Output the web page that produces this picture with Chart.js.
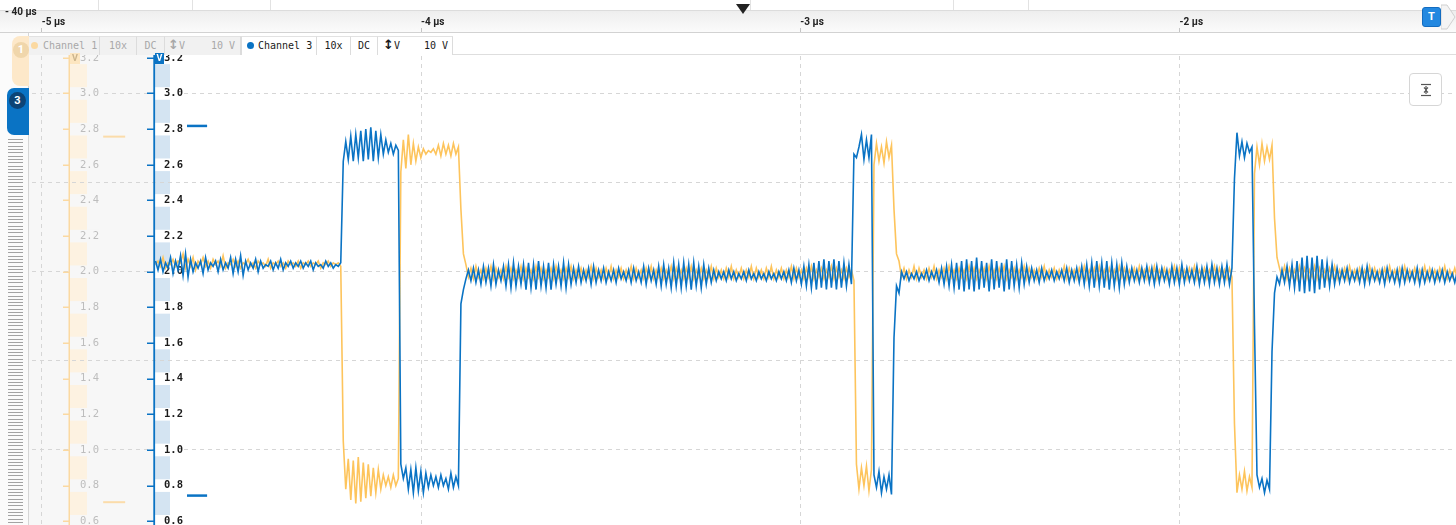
<!DOCTYPE html>
<html>
<head>
<meta charset="utf-8">
<title>Channel 1 / Channel 3</title>
<script src="https://cdn.jsdelivr.net/npm/chart.js@4.4.1/dist/chart.umd.min.js"></script>
<style>
  html, body { margin: 0; padding: 0; background: #fff; }
  body { position: relative; width: 1456px; height: 525px; overflow: hidden; font-family: Roboto, "Noto Sans", sans-serif; }
  .box { position: absolute; box-sizing: border-box; }
  .under { z-index: 1; }
  .over { z-index: 3; }
  #plot { position: absolute; left: 0; top: 0; z-index: 2; }

  #topStrip { left: 0; top: 0; width: 1456px; height: 11px; background: #fff; border-bottom: 1px solid #dcdcdc; }
  .sep { top: 0; width: 1px; height: 10px; background: #e2e2e2; }
  #ruler { left: 0; top: 11px; width: 1456px; height: 22px; background: linear-gradient(#eeeeee, #fbfbfb); border-bottom: 1px solid #d2d2d2; }
  #ch1Panel { left: 29px; top: 55px; width: 125px; height: 470px; background: #f7f7f7; }
  #ch1Band { left: 70px; top: 64px; width: 17px; height: 461px; background: #fdf2e1; }
  #ch3Band { left: 155px; top: 64px; width: 15px; height: 461px; background: #d4e4f2; }

  #tabCol { left: 0; top: 33px; width: 29px; height: 492px; background: #fbfbfb; border-right: 1px solid #d6d6d6; }
  #tab1 { left: 12px; top: 36px; width: 17px; height: 50px; background: #fde8c9; border-radius: 8px 0 0 8px; }
  #tab3 { left: 7px; top: 88px; width: 22px; height: 47px; background: #0a73c4; border-radius: 7px 0 0 7px; }
  .num { position: absolute; border-radius: 50%; color: #fff; font-weight: bold; text-align: center; }
  #num1 { left: 13px; top: 42px; width: 16px; height: 16px; line-height: 16px; font-size: 11px; background: #f0d6ab; }
  #num3 { left: 9px; top: 92px; width: 17px; height: 17px; line-height: 17px; font-size: 11px; background: #0d4476; }
  #tabRuler { left: 8px; top: 139px; width: 15px; height: 386px;
    background: repeating-linear-gradient(to bottom, #a3a3a3 0, #a3a3a3 1px, transparent 1px, transparent 3.33px); }

  #header { left: 29px; top: 33px; width: 1427px; height: 22px; background: #fff; border-bottom: 1px solid #dedede; }
  .cell { position: absolute; top: 36px; height: 19px; line-height: 18px; font-family: "DejaVu Sans Mono", monospace; font-size: 10px;
    box-sizing: border-box; border-right: 1px solid #dcdcdc; border-top: 1px solid #e2e2e2; text-align: center; white-space: pre; }
  .c1 { background: #f1f1f1; color: #a8a8a8; }
  .c3 { background: #fff; color: #1a1a1a; }
  .dot { position: absolute; top: 5px; width: 7px; height: 7px; border-radius: 50%; }
  .l { position: absolute; left: 3px; top: 0; }
  .r { position: absolute; right: 5px; top: 0; }
  .arr { font-family: "DejaVu Sans", sans-serif; font-size: 13px; font-weight: bold; line-height: 10px; }

  .vbox { top: 53px; height: 11px; line-height: 11px; font-size: 9px; font-weight: bold; text-align: center; }
  #v1 { left: 70px; width: 10px; background: #fde6c0; color: #cbb48c; }
  #v3 { left: 155px; width: 9px; background: #0a73c4; color: #fff; }

  #span { left: 5px; top: 6px; font-size: 10px; line-height: 12px; font-weight: bold; color: #222; }
  #trig { left: 736px; top: 4px; width: 0; height: 0; border-left: 7px solid transparent; border-right: 7px solid transparent; border-top: 10px solid #222; }
  #tBtn { left: 1422px; top: 7px; width: 19px; height: 20px; line-height: 18px; background: #2388e0; border: 1px solid #136cc0; border-radius: 3px;
    color: #fff; font-size: 11px; font-weight: bold; text-align: center; }
  #chev { left: 1441px; top: 3px; }
  #fitBtn { left: 1409px; top: 73px; width: 33px; height: 33px; background: #fff; border: 1px solid #d6d6d6; border-radius: 4px; }
</style>
</head>
<body>
<!-- under the plot -->
<div id="topStrip" class="box under"></div>
<div class="box sep under" style="left:98px"></div>
<div class="box sep under" style="left:192px"></div>
<div class="box sep under" style="left:270px"></div>
<div class="box sep under" style="left:750px"></div>
<div class="box sep under" style="left:953px"></div>
<div class="box sep under" style="left:1028px"></div>
<div id="ruler" class="box under"></div>
<div id="ch1Panel" class="box under"></div>
<div id="ch1Band" class="box under"></div>
<div id="ch3Band" class="box under"></div>

<canvas id="plot" width="1456" height="525"></canvas>

<!-- over the plot -->
<div id="span" class="box over">- 40 µs</div>
<div id="trig" class="box over"></div>
<div id="tBtn" class="box over">T</div>
<svg id="chev" class="box over" width="15" height="28"><polygon points="0,2 6,2 14,14 6,26 0,26" fill="#f4f4f4" stroke="#cfcfcf"/></svg>

<div id="header" class="box over"></div>
<div class="cell c1 over" style="left:29px;width:71px;text-align:left;padding-left:14px"><span class="dot" style="left:2px;background:#fbd9a1"></span>Channel 1</div>
<div class="cell c1 over" style="left:100px;width:37px">10x</div>
<div class="cell c1 over" style="left:137px;width:28px">DC</div>
<div class="cell c1 over" style="left:165px;width:76px"><span class="l"><span class="arr">↕</span>V</span><span class="r">10 V</span></div>
<div class="cell c3 over" style="left:241px;width:76px;text-align:left;padding-left:16px;border-left:1px solid #dcdcdc"><span class="dot" style="left:5px;background:#0a73c4"></span>Channel 3</div>
<div class="cell c3 over" style="left:317px;width:34px">10x</div>
<div class="cell c3 over" style="left:351px;width:27px">DC</div>
<div class="cell c3 over" style="left:378px;width:75px"><span class="l" style="left:5px"><span class="arr">↕</span>V</span><span class="r" style="right:4px">10 V</span></div>
<div id="v1" class="box vbox over">V</div>
<div id="v3" class="box vbox over">V</div>

<div id="tabCol" class="box over"></div>
<div id="tab1" class="box over"></div>
<div id="num1" class="num over">1</div>
<div id="tab3" class="box over"></div>
<div id="num3" class="num over">3</div>
<div id="tabRuler" class="box over"></div>

<div id="fitBtn" class="box over">
  <svg width="31" height="31">
    <g stroke="#555" stroke-width="1.2" fill="none">
      <line x1="11" y1="10.5" x2="21" y2="10.5"/>
      <line x1="11" y1="21.5" x2="21" y2="21.5"/>
      <line x1="16" y1="12" x2="16" y2="20"/>
      <polyline points="14,13.5 16,15.5 18,13.5"/>
      <polyline points="14,18.5 16,16.5 18,18.5"/>
    </g>
  </svg>
</div>

<script>
// capture time base (µs)
const sampleStart = -4.70;
const sampleStep = 0.0066;

const timeTicks = [-5, -4, -3, -2];
const voltTicks = [3.2, 3.0, 2.8, 2.6, 2.4, 2.2, 2.0, 1.8, 1.6, 1.4, 1.2, 1.0, 0.8, 0.6];
const gridLevels = [3.0, 2.5, 2.0, 1.5, 1.0];

// level markers at the left of each trace (V)
const ch3Markers = [2.818, 0.744];
const ch1Markers = [2.758, 0.707];

// Channel 3 (blue), volts
const ch3Values = [
  2.06,2.01,2.07,2.00,2.05,2.02,2.08,1.99,2.06,2.01,
  2.09,1.98,2.10,1.97,2.07,2.00,2.05,2.02,2.06,1.99,
  2.08,2.01,2.05,2.03,2.06,2.00,2.07,2.01,2.05,2.02,
  2.08,1.99,2.07,2.00,2.09,1.98,2.06,2.01,2.05,2.02,
  2.07,2.00,2.06,2.02,2.04,2.03,2.06,2.01,2.05,2.02,
  2.07,2.01,2.05,2.03,2.06,2.02,2.05,2.03,2.06,2.02,
  2.05,2.03,2.06,2.01,2.05,2.03,2.04,2.02,2.06,2.03,
  2.05,2.02,2.04,2.03,2.05,
  // burst 1
  2.62,2.73,2.63,2.76,2.62,2.77,2.64,2.79,2.62,2.80,
  2.63,2.81,2.62,2.79,2.64,2.77,2.66,2.74,2.67,2.72,
  2.66,2.71,2.68,
  0.92,0.84,0.90,0.78,0.89,0.76,0.90,0.77,0.88,0.76,
  0.87,0.79,0.86,0.80,0.85,0.79,0.86,0.80,0.84,0.78,
  0.87,0.79,0.85,0.80,
  // idle
  1.82,1.90,1.96,2.01,1.95,2.02,1.94,2.01,
  1.93,2.03,1.94,2.02,1.92,2.04,1.93,2.01,1.95,2.03,
  1.92,2.04,1.91,2.05,1.92,2.03,1.93,2.04,1.90,2.05,
  1.91,2.04,1.90,2.06,1.92,2.03,1.91,2.05,1.90,2.04,
  1.93,2.03,1.92,2.05,1.91,2.04,1.93,2.02,1.94,2.03,
  1.94,2.01,1.95,2.02,1.93,2.03,1.94,2.01,1.95,2.02,
  1.94,2.00,1.95,2.01,1.94,2.02,1.96,2.00,1.95,2.01,
  1.94,2.02,1.95,2.00,1.94,2.03,1.93,2.02,1.95,2.01,
  1.93,2.03,1.92,2.04,1.93,2.02,1.91,2.05,1.92,2.04,
  1.91,2.05,1.92,2.04,1.90,2.05,1.92,2.03,1.91,2.04,
  1.93,2.02,1.94,2.01,1.95,2.00,1.96,2.00,1.95,2.01,
  1.96,2.00,1.95,1.99,1.96,2.00,1.95,2.01,1.96,1.99,
  1.95,2.00,1.96,1.99,1.95,2.00,1.96,1.99,1.95,2.00,
  1.96,2.00,1.95,2.01,1.94,2.02,1.95,2.01,1.93,2.03,
  1.92,2.04,1.91,2.05,1.90,2.06,1.91,2.07,1.90,2.06,
  1.91,2.07,1.90,2.06,1.91,2.05,1.92,2.04,1.93,
  // burst 2
  2.66,2.64,2.70,2.77,2.63,2.74,2.64,2.77,
  0.86,0.79,0.88,0.76,0.85,0.78,0.86,0.75,
  1.63,1.92,1.88,2.00,
  // idle
  1.96,2.00,1.95,1.99,1.96,2.00,1.95,1.99,1.96,2.01,
  1.95,2.00,1.96,2.01,1.94,2.02,1.93,2.03,1.92,2.04,
  1.91,2.05,1.90,2.06,1.89,2.07,1.90,2.06,1.89,2.08,
  1.90,2.06,1.91,2.05,1.89,2.07,1.90,2.06,1.91,2.05,
  1.89,2.07,1.90,2.06,1.92,2.04,1.91,2.05,1.93,2.03,
  1.94,2.02,1.95,2.01,1.94,2.02,1.95,2.00,1.96,2.01,
  1.95,2.00,1.96,2.01,1.95,2.02,1.94,2.01,1.95,2.02,
  1.94,2.03,1.93,2.04,1.92,2.05,1.91,2.06,1.92,2.05,
  1.91,2.06,1.90,2.05,1.92,2.04,1.91,2.05,1.93,2.03,
  1.94,2.02,1.95,2.01,1.94,2.02,1.95,2.03,1.94,2.02,
  1.93,2.03,1.94,2.02,1.95,2.01,1.93,2.03,1.94,2.02,
  1.93,2.04,1.94,2.02,1.95,2.01,1.94,2.03,1.93,2.02,
  1.94,2.03,1.93,2.04,1.94,2.02,1.93,2.03,1.94,2.04,
  1.93,2.02,
  // burst 3
  2.52,2.78,2.65,2.73,2.64,2.72,2.67,2.70,
  1.70,0.86,0.79,0.84,0.76,0.83,0.78,
  1.55,1.88,1.97,
  // idle
  1.93,2.01,1.94,2.03,1.92,2.04,1.91,2.06,1.89,2.08,
  1.88,2.09,1.89,2.08,1.88,2.09,1.90,2.07,1.91,2.05,
  1.92,2.04,1.93,2.02,1.94,2.01,1.95,2.02,1.94,2.00,
  1.95,2.01,1.94,2.02,1.93,2.03,1.94,2.01,1.95,2.00,
  1.94,2.01,1.93,2.02,1.95,2.00,1.94,2.01,1.93,2.02,
  1.94,2.01,1.95,2.00,1.94,2.02,1.93,2.01,1.94,2.00,
  1.95,2.01,1.94,2.00,1.95,2.01,1.94,2.00,1.95,1.99,
  1.94,2.00
];

// Channel 1 (orange), volts
const ch1Values = [
  2.04,2.06,2.03,2.08,2.02,2.05,2.04,2.07,2.03,2.06,
  2.05,2.10,2.02,2.07,2.03,2.08,2.01,2.06,2.04,2.08,
  2.03,2.06,2.02,2.07,2.04,2.06,2.03,2.09,2.02,2.05,
  2.04,2.07,2.03,2.06,2.02,2.05,2.04,2.07,2.03,2.05,
  2.02,2.06,2.04,2.05,2.03,2.07,2.02,2.05,2.04,2.06,
  2.03,2.05,2.02,2.06,2.04,2.05,2.03,2.06,2.02,2.05,
  2.04,2.06,2.03,2.05,2.04,2.06,2.02,2.05,2.04,2.06,
  2.03,2.05,2.04,2.05,2.03,
  // burst 1
  1.05,
  0.78,0.95,0.72,0.94,0.70,0.96,0.71,0.93,0.73,0.92,
  0.74,0.90,0.76,0.89,0.78,0.86,0.80,0.85,0.79,0.86,
  0.80,0.84,
  2.56,2.74,2.58,2.77,2.60,2.72,2.62,2.70,2.64,2.69,
  2.66,2.68,2.67,2.69,2.66,2.71,2.65,2.72,2.66,2.71,
  2.65,2.72,2.66,2.70,
  2.35,2.10,2.04,
  // idle
  1.97,2.02,1.96,2.03,1.97,2.01,1.96,2.02,1.97,2.03,
  1.96,2.02,1.97,2.01,1.96,2.03,1.97,2.02,1.96,2.01,
  1.97,2.03,1.96,2.02,1.97,2.01,1.96,2.03,1.97,2.02,
  1.96,2.01,1.97,2.02,1.96,2.03,1.97,2.01,1.96,2.02,
  1.97,2.03,1.96,2.01,1.97,2.02,1.96,2.01,1.97,2.03,
  1.96,2.02,1.97,2.01,1.96,2.02,1.97,2.03,1.96,2.01,
  1.97,2.02,1.96,2.01,1.97,2.03,1.96,2.02,1.97,2.01,
  1.96,2.02,1.97,2.03,1.96,2.01,1.97,2.02,1.96,2.01,
  1.97,2.03,1.96,2.02,1.97,2.01,1.96,2.02,1.97,2.03,
  1.96,2.01,1.97,2.02,1.96,2.01,1.97,2.03,1.96,2.02,
  1.97,2.01,1.96,2.02,1.97,2.03,1.96,2.01,1.97,2.02,
  1.96,2.01,1.97,2.03,1.96,2.02,1.97,2.01,1.96,2.02,
  1.97,2.03,1.96,2.01,1.97,2.02,1.96,2.01,1.97,2.03,
  1.96,2.02,1.97,2.01,1.96,2.02,1.97,2.03,1.96,2.01,
  1.97,2.02,1.96,2.01,1.97,2.03,1.96,2.02,1.97,2.01,
  1.96,2.02,1.97,2.01,
  // burst 2
  1.95,0.92,
  0.78,0.90,0.80,0.91,0.77,0.89,
  2.60,2.72,2.62,2.70,2.61,2.73,2.64,2.71,
  2.35,2.10,2.06,
  // idle
  1.97,2.02,1.96,2.01,1.97,2.03,1.96,2.02,1.97,2.01,
  1.96,2.02,1.97,2.03,1.96,2.01,1.97,2.02,1.96,2.03,
  1.97,2.01,1.96,2.02,1.97,2.01,1.96,2.03,1.97,2.02,
  1.96,2.01,1.97,2.02,1.96,2.03,1.97,2.01,1.96,2.02,
  1.97,2.03,1.96,2.01,1.97,2.02,1.96,2.01,1.97,2.03,
  1.96,2.02,1.97,2.01,1.96,2.02,1.97,2.03,1.96,2.01,
  1.97,2.02,1.96,2.01,1.97,2.03,1.96,2.02,1.97,2.01,
  1.96,2.02,1.97,2.03,1.96,2.01,1.97,2.02,1.96,2.03,
  1.97,2.01,1.96,2.02,1.97,2.01,1.96,2.03,1.97,2.02,
  1.96,2.01,1.97,2.02,1.96,2.03,1.97,2.01,1.96,2.02,
  1.97,2.03,1.96,2.01,1.97,2.02,1.96,2.01,1.97,2.03,
  1.96,2.02,1.97,2.01,1.96,2.02,1.97,2.03,1.96,2.01,
  1.97,2.02,1.96,2.01,1.97,2.03,1.96,2.02,1.97,2.01,
  1.96,2.02,1.97,
  // burst 3
  1.15,
  0.76,0.86,0.78,0.88,0.77,0.85,0.79,
  2.55,2.70,2.60,2.72,2.62,2.70,2.63,2.71,
  2.30,2.08,
  // idle
  2.02,1.97,2.03,1.96,2.02,1.97,2.01,1.96,2.03,1.97,
  2.02,1.96,2.01,1.97,2.03,1.96,2.02,1.97,2.01,1.96,
  2.02,1.97,2.03,1.96,2.01,1.97,2.02,1.96,2.03,1.97,
  2.01,1.96,2.02,1.97,2.01,1.96,2.03,1.97,2.02,1.96,
  2.01,1.97,2.02,1.96,2.03,1.97,2.01,1.96,2.02,1.97,
  2.03,1.96,2.01,1.97,2.02,1.96,2.01,1.97,2.03,1.96,
  2.02,1.97,2.01,1.96,2.02,1.97,2.03,1.96,2.01,1.97,
  2.02,1.96
];

const BLUE = '#0a73c4';
const ORANGE = '#fdc45c';

function samples(vals){
  return vals.map((v, i) => ({ x: sampleStart + i * sampleStep, y: v }));
}
function markerLine(level, from, to){
  return [{ x: from, y: level }, { x: to, y: level }];
}
const setTicks = list => scale => { scale.ticks = list.map(v => ({ value: v })); };
const noSpace = scale => { scale.width = 0; scale.paddingTop = 0; scale.paddingBottom = 0; };

// axis lines and tick marks of the two channel rulers
const rulerMarks = {
  id: 'rulerMarks',
  afterDraw(chart){
    const { ctx, chartArea } = chart;
    const s = chart.scales.y3;
    const top = 55;
    ctx.save();
    ctx.fillStyle = '#fbd9a1';
    ctx.fillRect(68.5, top, 1.5, chartArea.bottom - top);
    s.ticks.forEach(t => {
      const y = Math.round(s.getPixelForValue(t.value));
      ctx.fillRect(63, y - 0.5, 6, 1.5);
    });
    ctx.fillStyle = BLUE;
    ctx.fillRect(153.3, top, 1.8, chartArea.bottom - top);
    s.ticks.forEach(t => {
      const y = Math.round(s.getPixelForValue(t.value));
      ctx.fillRect(147, y - 0.5, 7, 1.5);
    });
    ctx.restore();
  }
};

const ch3Span = [-4.617, -4.564];
const ch1Span = [-4.838, -4.780];

const monoFont = { family: "'DejaVu Sans Mono', monospace", size: 10.5, weight: 'bold' };

new Chart(document.getElementById('plot'), {
  type: 'line',
  data: {
    datasets: [
      { data: samples(ch3Values), borderColor: BLUE, borderWidth: 1.6, order: 1 },
      { data: samples(ch1Values), borderColor: ORANGE, borderWidth: 1.6, order: 2 },
      { data: markerLine(ch3Markers[0], ch3Span[0], ch3Span[1]), borderColor: BLUE, borderWidth: 2.5, order: 0 },
      { data: markerLine(ch3Markers[1], ch3Span[0], ch3Span[1]), borderColor: BLUE, borderWidth: 2.5, order: 0 },
      { data: markerLine(ch1Markers[0], ch1Span[0], ch1Span[1]), borderColor: '#fbdcaa', borderWidth: 2, order: 0 },
      { data: markerLine(ch1Markers[1], ch1Span[0], ch1Span[1]), borderColor: '#fbdcaa', borderWidth: 2, order: 0 }
    ]
  },
  options: {
    responsive: false,
    devicePixelRatio: 1,
    animation: false,
    events: [],
    layout: { padding: 0 },
    elements: { point: { radius: 0 }, line: { tension: 0, fill: false } },
    plugins: { legend: { display: false }, tooltip: { enabled: false } },
    scales: {
      x: {
        type: 'linear', position: 'top', min: -5.110, max: -1.2713,
        afterBuildTicks: setTicks(timeTicks),
        afterFit: s => { s.height = 32; s.paddingLeft = 0; s.paddingRight = 0; },
        ticks: {
          align: 'start', autoSkip: false, maxRotation: 0, padding: 0,
          color: '#222', font: { family: 'Roboto', size: 10, weight: 'bold' },
          callback: v => v + ' µs'
        },
        grid: { color: '#d6d6d6', tickLength: 4, tickColor: '#c4c4c4', tickBorderDash: [] },
        border: { display: false, dash: [4, 4] }
      },
      // main value axis: dashed grid every 0.5 V
      y: {
        type: 'linear', position: 'left', min: 0.579, max: 3.345,
        afterBuildTicks: setTicks(gridLevels),
        afterFit: noSpace,
        ticks: { display: false },
        grid: { color: '#d6d6d6', drawTicks: false },
        border: { display: false, dash: [4, 4] }
      },
      y3: {
        type: 'linear', position: 'left', min: 0.579, max: 3.345,
        afterBuildTicks: setTicks(voltTicks),
        afterFit: noSpace,
        ticks: {
          mirror: true, padding: 164, crossAlign: 'near', autoSkip: false,
          color: '#1b1b1b', font: monoFont,
          callback: v => v.toFixed(1),
          showLabelBackdrop: true, backdropColor: '#ffffff',
          backdropPadding: { left: 9, right: 1, top: 0, bottom: 0 }
        },
        grid: { display: false, drawTicks: false },
        border: { display: false }
      },
      y1: {
        type: 'linear', position: 'left', min: 0.579, max: 3.345,
        afterBuildTicks: setTicks(voltTicks),
        afterFit: noSpace,
        ticks: {
          mirror: true, padding: 80, crossAlign: 'near', autoSkip: false,
          color: '#bdbdbd', font: { family: "'DejaVu Sans Mono', monospace", size: 10.5 },
          callback: v => v.toFixed(1),
          showLabelBackdrop: true, backdropColor: '#f7f7f7',
          backdropPadding: { left: 10, right: 1, top: 0, bottom: 0 }
        },
        grid: { display: false, drawTicks: false },
        border: { display: false }
      }
    }
  },
  plugins: [rulerMarks]
});
</script>
</body>
</html>
